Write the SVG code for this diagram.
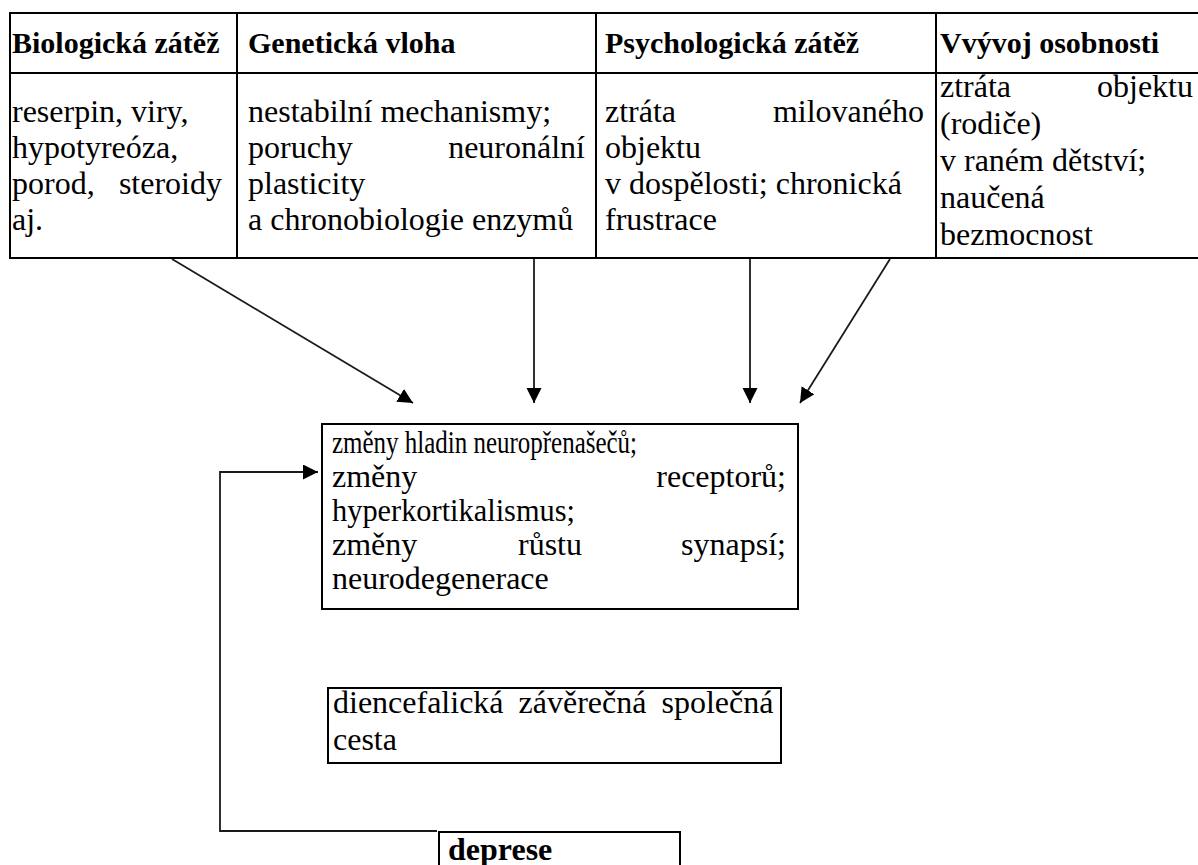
<svg xmlns="http://www.w3.org/2000/svg" width="1198" height="865" viewBox="0 0 1198 865">
<style>
.t{font-family:"Liberation Serif","Times New Roman",serif;font-size:32px;fill:#000}
.h{font-family:"Liberation Serif","Times New Roman",serif;font-size:30px;font-weight:bold;fill:#000}
.b{fill:none;stroke:#000;stroke-width:2}
.c{fill:none;stroke:#1a1a1a;stroke-width:1.8}
</style>
<defs>
<marker id="ah" markerUnits="userSpaceOnUse" markerWidth="16" markerHeight="16" refX="15" refY="7.5" orient="auto">
<path d="M0,0 L15,7.5 L0,15 z" fill="#000"/>
</marker>
</defs>
<g id="table">
<line class="b" x1="10" y1="13" x2="1198" y2="13"/>
<line class="b" x1="10" y1="73" x2="1198" y2="73"/>
<line class="b" x1="10" y1="258" x2="1198" y2="258"/>
<line class="b" x1="10" y1="12" x2="10" y2="259"/>
<line class="b" x1="237" y1="12" x2="237" y2="259"/>
<line class="b" x1="596" y1="12" x2="596" y2="259"/>
<line class="b" x1="936" y1="12" x2="936" y2="259"/>
</g>
<g id="col1">
<text class="h" x="12" y="53">Biologická zátěž</text>
<text class="t" x="12" y="122">reserpin, viry,</text>
<text class="t" x="12" y="158">hypotyreóza,</text>
<text class="t" x="12" y="194">porod,</text>
<text class="t" x="222" y="194" text-anchor="end">steroidy</text>
<text class="t" x="12" y="230">aj.</text>
</g>
<g id="col2">
<text class="h" x="248" y="53">Genetická vloha</text>
<text class="t" x="248" y="122">nestabilní mechanismy;</text>
<text class="t" x="248" y="158">poruchy</text>
<text class="t" x="585" y="158" text-anchor="end">neuronální</text>
<text class="t" x="248" y="194">plasticity</text>
<text class="t" x="248" y="230">a chronobiologie enzymů</text>
</g>
<g id="col3">
<text class="h" x="605" y="53">Psychologická zátěž</text>
<text class="t" x="605" y="122">ztráta</text>
<text class="t" x="924" y="122" text-anchor="end">milovaného</text>
<text class="t" x="605" y="158">objektu</text>
<text class="t" x="605" y="194">v dospělosti; chronická</text>
<text class="t" x="605" y="230">frustrace</text>
</g>
<g id="col4">
<text class="h" x="940" y="53">Vvývoj osobnosti</text>
<text class="t" x="940" y="97">ztráta</text>
<text class="t" x="1193" y="97" text-anchor="end">objektu</text>
<text class="t" x="940" y="134">(rodiče)</text>
<text class="t" x="940" y="171">v raném dětství;</text>
<text class="t" x="940" y="208">naučená</text>
<text class="t" x="940" y="245">bezmocnost</text>
</g>
<g id="changes">
<rect class="b" x="322" y="424" width="476" height="185"/>
<text class="t" x="332" y="453" textLength="305" lengthAdjust="spacingAndGlyphs">změny hladin neuropřenašečů;</text>
<text class="t" x="332" y="487">změny</text>
<text class="t" x="786" y="487" text-anchor="end">receptorů;</text>
<text class="t" x="332" y="521" textLength="243" lengthAdjust="spacingAndGlyphs">hyperkortikalismus;</text>
<text class="t" x="332" y="555">změny</text>
<text class="t" x="518" y="555">růstu</text>
<text class="t" x="786" y="555" text-anchor="end">synapsí;</text>
<text class="t" x="332" y="589">neurodegenerace</text>
</g>
<g id="pathway">
<rect class="b" x="328" y="688" width="453" height="75"/>
<text class="t" x="333" y="713" word-spacing="7">diencefalická závěrečná společná</text>
<text class="t" x="333" y="750">cesta</text>
</g>
<g id="deprese">
<rect class="b" x="439" y="832" width="241" height="50"/>
<text class="h" x="448" y="860" style="font-size:32px">deprese</text>
</g>
<g id="connectors">
<line class="c" x1="172" y1="259" x2="413" y2="403" marker-end="url(#ah)"/>
<line class="c" x1="534" y1="259" x2="534" y2="403" marker-end="url(#ah)"/>
<line class="c" x1="750" y1="259" x2="750" y2="403" marker-end="url(#ah)"/>
<line class="c" x1="890" y1="259" x2="800" y2="403" marker-end="url(#ah)"/>
<polyline class="c" points="437,831 220,831 220,472 318,472" marker-end="url(#ah)"/>
</g>
</svg>
